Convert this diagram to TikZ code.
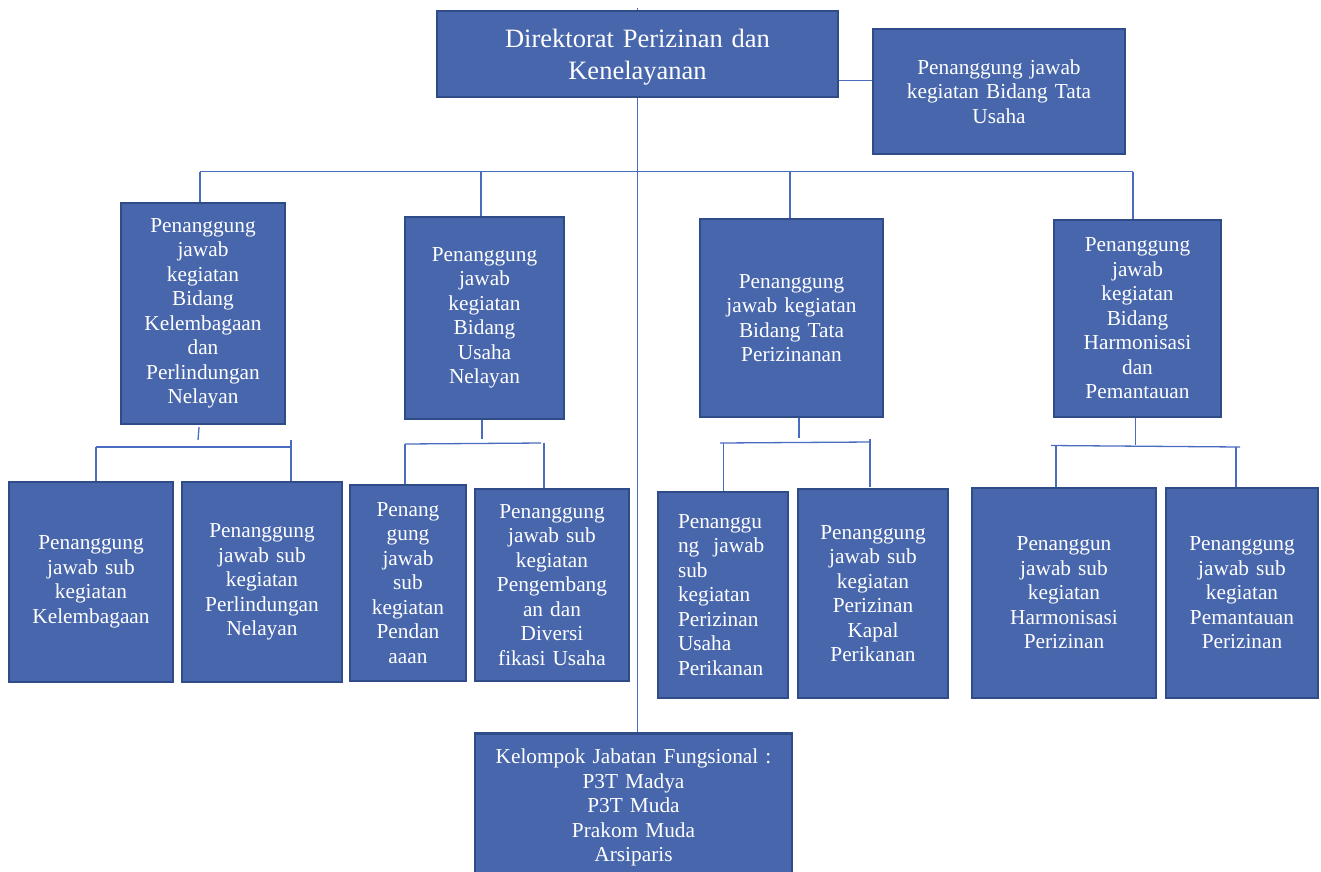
\documentclass[tikz,border=0pt]{standalone}
\usepackage{fontspec}
\setmainfont{Liberation Serif}
\definecolor{boxfill}{HTML}{4866AC}
\definecolor{boxline}{HTML}{2F4B88}
\definecolor{conncol}{HTML}{4A6CC0}
\begin{document}
\begin{tikzpicture}[x=1pt,y=-1pt,
  box/.style={draw=boxline, line width=2.5pt, fill=boxfill, inner sep=0pt,
    text=white, align=center, font=\fontsize{21.3pt}{24.5pt}\selectfont},
  txt/.style={text=white, align=center, inner sep=0pt, font=\fontsize{21.3pt}{24.5pt}\selectfont},
  conn/.style={draw=conncol, line width=1.3pt}]
\useasboundingbox (0,0) rectangle (1321,871);

% boxes
\node[box, minimum width=401pt, minimum height=86pt] (top) at (637.5,54) {};
\node[txt, text width=390pt, font=\fontsize{26.5pt}{32.3pt}\selectfont] (toptxt) at ([yshift=-3.5pt]top.center) {Direktorat Perizinan dan\\Kenelayanan};
\node[box, minimum width=252pt, minimum height=125pt, text width=244pt] (tu) at (999,91.5) {Penanggung jawab\\kegiatan Bidang Tata\\Usaha};

\node[box, minimum width=164pt, minimum height=221pt, text width=156pt] (b1) at (203,313.5) {Penanggung\\jawab\\kegiatan\\Bidang\\Kelembagaan\\dan\\Perlindungan\\Nelayan};
\node[box, minimum width=159pt, minimum height=202pt, text width=151pt] (b2) at (484.5,318) {Penanggung\\jawab\\kegiatan\\Bidang\\Usaha\\Nelayan};
\node[box, minimum width=183pt, minimum height=198pt, text width=175pt] (b3) at (791.5,318) {Penanggung\\jawab kegiatan\\Bidang Tata\\Perizinanan};
\node[box, minimum width=167pt, minimum height=197pt, text width=159pt] (b4) at (1137.5,318.5) {Penanggung\\jawab\\kegiatan\\Bidang\\Harmonisasi\\dan\\Pemantauan};

\node[box, minimum width=164pt, minimum height=200pt, text width=156pt] (c1) at (91,582) {Penanggung\\jawab sub\\kegiatan\\Kelembagaan};
\node[box, minimum width=160pt, minimum height=200pt, text width=152pt] (c2) at (262,582) {Penanggung\\jawab sub\\kegiatan\\Perlindungan\\Nelayan};
\node[box, minimum width=116pt, minimum height=196pt, text width=108pt] (c3) at (408,583) {Penang\\gung\\jawab\\sub\\kegiatan\\Pendan\\aaan};
\node[box, minimum width=154pt, minimum height=192pt, text width=146pt] (c4) at (552,585) {Penanggung\\jawab sub\\kegiatan\\Pengembang\\an dan\\Diversi\\fikasi Usaha};
\node[box, minimum width=130pt, minimum height=206pt, text width=90pt, align=left] (c5) at (723,595) {Penanggu\\ng\ \ jawab\\sub\\kegiatan\\Perizinan\\Usaha\\Perikanan};
\node[box, minimum width=150pt, minimum height=209pt, text width=142pt] (c6) at (873,593.5) {Penanggung\\jawab sub\\kegiatan\\Perizinan\\Kapal\\Perikanan};
\node[box, minimum width=184pt, minimum height=210pt, text width=176pt] (c7) at (1064,593) {Penanggun\\jawab sub\\kegiatan\\Harmonisasi\\Perizinan};
\node[box, minimum width=152pt, minimum height=210pt, text width=144pt] (c8) at (1242,593) {Penanggung\\jawab sub\\kegiatan\\Pemantauan\\Perizinan};

\node[box, minimum width=317pt, minimum height=180pt, anchor=north] (kel) at (633.5,732) {};
\node[txt, anchor=north, text width=310pt] (keltxt) at ([yshift=-17pt]kel.north) {Kelompok Jabatan Fungsional :\\P3T Madya\\P3T Muda\\Prakom Muda\\Arsiparis};

% top connectors
\coordinate (topstub) at (637.5,8);
\draw[conn] (topstub) -- (topstub |- top.north);
\draw[conn] (top.south) -- (top.south |- kel.north);
\coordinate (tuy) at (0,80.5);
\draw[conn] (top.east |- tuy) -- (tu.west |- tuy);

% main bus
\coordinate (busL) at (200,171.5);
\coordinate (busR) at (1133,171.5);
\coordinate (d2) at (481,171.5);
\coordinate (d3) at (790,171.5);
\draw[conn] (busL) -- (busR);
\draw[conn] (busL) -- (busL |- b1.north);
\draw[conn] (d2) -- (d2 |- b2.north);
\draw[conn] (d3) -- (d3 |- b3.north);
\draw[conn] (busR) -- (busR |- b4.north);

% group 1
\coordinate (s1a) at (199,427);
\coordinate (s1b) at (198,440);
\coordinate (g1L) at (96,447);
\coordinate (g1R) at (292,447);
\coordinate (g1r) at (291,440);
\draw[conn] (s1a) -- (s1b);
\draw[conn] (g1L) -- (g1R);
\draw[conn] (g1L) -- (g1L |- c1.north);
\draw[conn] (g1r) -- (g1r |- c2.north);

% group 2
\coordinate (s2) at (482,439);
\coordinate (g2L) at (405,444);
\coordinate (g2R) at (541,443);
\coordinate (g2r) at (544,443);
\draw[conn] (b2.south -| s2) -- (s2);
\draw[conn] (g2L) -- (g2R);
\draw[conn] (g2L) -- (g2L |- c3.north);
\draw[conn] (g2r) -- (g2r |- c4.north);

% group 3
\coordinate (s3) at (799,438);
\coordinate (g3L) at (720,443);
\coordinate (g3R) at (870,442);
\coordinate (g3l) at (723.5,443);
\coordinate (g3r) at (870,439);
\coordinate (g3e) at (870,487);
\draw[conn] (b3.south -| s3) -- (s3);
\draw[conn] (g3L) -- (g3R);
\draw[conn] (g3l) -- (g3l |- c5.north);
\draw[conn] (g3r) -- (g3e);

% group 4
\coordinate (s4) at (1135.5,445);
\coordinate (g4L) at (1051,445.5);
\coordinate (g4R) at (1240,447);
\coordinate (g4l) at (1056,446);
\coordinate (g4r) at (1236,447);
\draw[conn] (b4.south -| s4) -- (s4);
\draw[conn] (g4L) -- (g4R);
\draw[conn] (g4l) -- (g4l |- c7.north);
\draw[conn] (g4r) -- (g4r |- c8.north);
\end{tikzpicture}
\end{document}
